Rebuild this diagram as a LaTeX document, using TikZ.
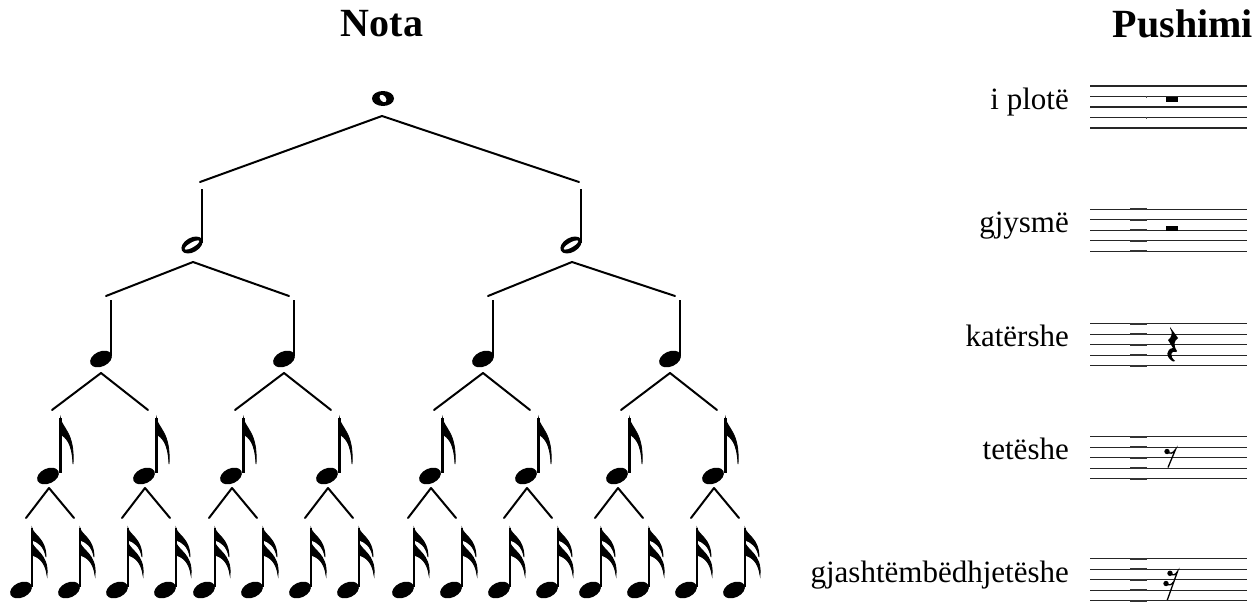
\documentclass[tikz,border=0pt]{standalone}
\usepackage{fontspec}
\setmainfont{Liberation Serif}
\begin{document}
\begin{tikzpicture}[x=1pt,y=-1pt,
  branch/.style={line width=2pt,line cap=round},
  stemline/.style={line width=2.3pt},
  staffline/.style={line width=1.3pt,black!85},
  label/.style={anchor=mid east,inner sep=0pt,font=\fontsize{31}{31}\selectfont},
  title/.style={inner sep=0pt,font=\fontsize{40}{40}\selectfont\bfseries},
  pics/qnote/.style={code={
    \fill[rotate=25] (0,0) ellipse [x radius=11.5,y radius=7.5];
    \draw[stemline] (10,-3) -- (10,-59);}},
  pics/hnote/.style={code={
    \fill[rotate=30] (0,0) ellipse [x radius=11.5,y radius=7.2];
    \fill[white,rotate=30] (0,0) ellipse [x radius=8.2,y radius=2.4];
    \draw[stemline] (9.8,-2) -- (9.8,-56);}},
  pics/enote/.style={code={
    \fill[rotate=25] (0,0) ellipse [x radius=11.5,y radius=7.5];
    \draw[stemline] (12.5,-3) -- (12.5,-58);
    \filldraw[line width=0.8pt] (12.5,-58) .. controls (13.5,-48) and (27,-44) .. (25,-12)
      .. controls (24,-34) and (18,-38) .. (12.5,-42) -- cycle;}},
  pics/snote/.style={code={
    \fill[rotate=25] (0,0) ellipse [x radius=11.5,y radius=7.5];
    \draw[stemline] (11,-3) -- (11,-62);
    \filldraw[line width=0.8pt] (11,-62) .. controls (12,-55) and (25,-52) .. (25,-33)
      .. controls (23,-44) and (17,-48) .. (11,-50) -- cycle;
    \filldraw[line width=0.8pt] (11,-48) .. controls (12,-40) and (28,-36) .. (26,-15)
      .. controls (24,-29) and (17,-33) .. (11,-35) -- cycle;}}
]
\useasboundingbox (0,0) rectangle (1256,602);

% titles
\node[title] (tnota) at (382,24) {Nota};
\node[title] (tpush) at (1183,24) {Pushimi};

% whole note
\fill (383,98.5) ellipse [x radius=11,y radius=7.5];
\fill[white,rotate around={-50:(383,98.5)}] (383,98.5) ellipse [x radius=4.2,y radius=2.8];
\coordinate (wa) at (382,116);

% half notes
\foreach \h [count=\i] in {192,571} {
  \pic at (\h,245) {hnote};
  \coordinate (ht\i) at (\h+8,182);
  \coordinate (ha\i) at (\h+1,262);
}
\draw[branch] (wa) -- (ht1);
\draw[branch] (wa) -- (ht2);

% quarter notes
\foreach \q [count=\i] in {101,284,483,670} {
  \pic at (\q,359) {qnote};
  \coordinate (qt\i) at (\q+5,296);
  \coordinate (qa\i) at (\q,373);
}
\draw[branch] (ha1) -- (qt1);
\draw[branch] (ha1) -- (qt2);
\draw[branch] (ha2) -- (qt3);
\draw[branch] (ha2) -- (qt4);

% eighth and sixteenth notes
\foreach \q [count=\i] in {101,284,483,670} {
  \foreach \s/\d in {a/-53,b/43} {
    \pgfmathsetmacro{\e}{\q+\d}
    \pic at (\e,476) {enote};
    \coordinate (et\i\s) at (\e+4,410);
    \coordinate (ea\i\s) at (\e+1,488);
    \draw[branch] (qa\i) -- (et\i\s);
    \foreach \t/\f in {l/-27,r/21} {
      \pgfmathsetmacro{\x}{\e+\f}
      \pic at (\x,590) {snote};
      \coordinate (st\i\s\t) at (\x+5,518);
      \draw[branch] (ea\i\s) -- (st\i\s\t);
    }
  }
}

% staffs
\foreach \y [count=\i] in {86,209.3,323.7,436.7,558.7} {
  \foreach \k in {0,...,4} {
    \draw[staffline] (1090,\y+\k*10.5) -- (1247,\y+\k*10.5);
  }
}
\foreach \y in {209.3,323.7,436.7,558.7} {
  \foreach \k in {0,...,4} {
    \draw[line width=2pt,black!80] (1130,\y+\k*10.5) -- (1147,\y+\k*10.5);
  }
}
\fill[black!70] (1145.5,95.5) rectangle (1147,98);
\fill[black!70] (1145.5,116.5) rectangle (1147,119);

% labels
\node[label] (l1) at (1069,107) {i plotë};
\node[label] (l2) at (1069,230.3) {gjysmë};
\node[label] (l3) at (1069,344.7) {katërshe};
\node[label] (l4) at (1069,457.7) {tetëshe};
\node[label] (l5) at (1069,579.7) {gjashtëmbëdhjetëshe};

% rests
\fill (1166,96.5) rectangle (1178,101.5);
\fill (1166,226) rectangle (1178,230.8);
\fill (1170,327) -- (1178,338) .. controls (1174,341) and (1173,345) .. (1177,351)
  -- (1176,352) .. controls (1171,350) and (1169,356) .. (1175,361)
  -- (1173,361.5) .. controls (1165,357) and (1166,349) .. (1173,348)
  -- (1168,340) .. controls (1172,337) and (1173,333) .. (1170,328) -- cycle;
\fill (1167,451.5) circle (2.7);
\draw[line width=1.3pt] (1167,451.5) .. controls (1170,454.5) and (1173,453.5) .. (1175.5,449.5) -- (1168,467.5);
\fill (1170,573.3) circle (2.7);
\fill (1166,583.5) circle (2.7);
\draw[line width=1.3pt] (1170,573.3) .. controls (1173,576) and (1175.5,575) .. (1177.5,571.5) -- (1167.3,600);
\draw[line width=1.3pt] (1166,583.5) .. controls (1169,586) and (1171.5,585) .. (1173.5,582);
\end{tikzpicture}
\end{document}
